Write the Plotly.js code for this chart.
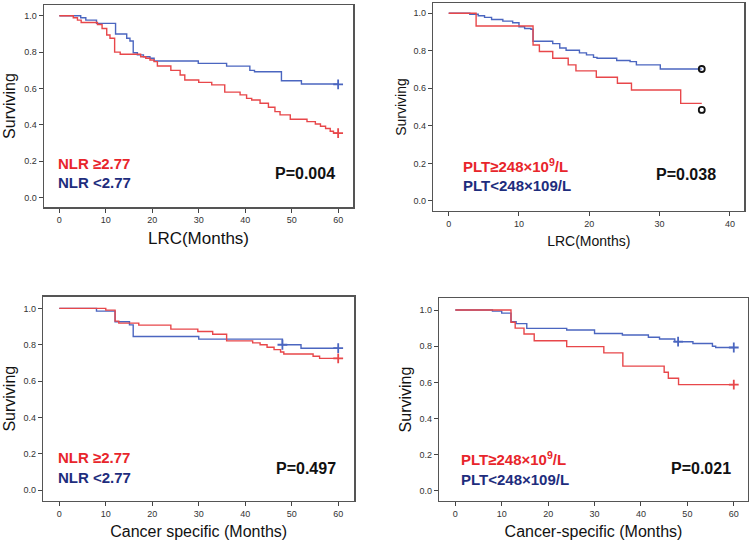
<!DOCTYPE html>
<html><head><meta charset="utf-8">
<script src="https://cdn.plot.ly/plotly-3.0.1.min.js"></script>
<style>html,body{margin:0;padding:0;background:#fff}#chart{width:753px;height:546px}</style>
</head><body><div id="chart"></div>
<script>
// ---- Panel A: LRC by NLR ----
const lrcNlrHighT = [0, 3, 3.9, 4.7, 8.2, 9.2, 10.2, 10.9, 11.9, 13.1, 17.5, 18.6, 19.5, 20.4, 21.1, 24, 26, 27, 30, 32.8, 35.6, 38.9, 40.3, 41.4, 43.2, 45, 46.4, 47.5, 49.7, 53.3, 55.1, 56.2, 57.3, 58.3, 59, 60];
const lrcNlrHighS = [1, .989, .976, .963, .952, .93, .894, .876, .80, .788, .775, .766, .757, .748, .724, .70, .674, .647, .634, .62, .58, .565, .546, .537, .519, .497, .473, .455, .431, .418, .405, .393, .38, .365, .355, .355];
const lrcNlrLowT = [0, 4.6, 5.7, 8.0, 12.1, 14.5, 15.2, 15.9, 16.8, 18.1, 19.5, 20.4, 29.9, 36, 41, 42, 47.8, 52.1, 60];
const lrcNlrLowS = [1, .989, .976, .958, .90, .876, .861, .797, .785, .775, .766, .751, .738, .723, .70, .692, .643, .625, .625];
// ---- Panel B: LRC by PLT ----
const lrcPltHighT = [0, 3.9, 12.0, 12.9, 14.8, 17.0, 18.1, 21, 24, 26, 33, 36];
const lrcPltHighS = [1, .932, .831, .796, .760, .725, .693, .659, .627, .591, .52, .52];
const lrcPltLowT = [0, 3.0, 4.2, 5.1, 6.1, 7.7, 9.1, 10, 10.8, 11.7, 12, 14.8, 15.8, 16.7, 18.6, 19.6, 20.6, 21.1, 23.9, 25.8, 26.7, 30.1, 36];
const lrcPltLowS = [1, .995, .987, .978, .967, .958, .949, .928, .919, .915, .851, .838, .815, .803, .789, .778, .765, .760, .748, .742, .725, .703, .703];
// ---- Panel C: cancer specific by NLR ----
const csNlrHighT = [0, 10, 12, 12.8, 17.1, 24, 29.8, 33, 36, 41.6, 43.2, 44.7, 46.2, 47.6, 48.3, 54.6, 56, 60];
const csNlrHighS = [1, .99, .93, .919, .908, .886, .873, .858, .821, .81, .80, .786, .773, .76, .749, .737, .725, .725];
const csNlrLowT = [0, 8, 12, 15.1, 15.9, 30, 48, 52, 60];
const csNlrLowS = [1, .985, .926, .909, .845, .831, .80, .781, .781];
// ---- Panel D: cancer specific by PLT ----
const csPltHighT = [0, 12, 12.9, 14.8, 17, 24, 32, 36.1, 45, 45.9, 48.1, 60];
const csPltHighS = [1, .933, .90, .868, .83, .798, .763, .69, .656, .623, .588, .588];
const csPltLowT = [0, 8, 10, 12, 13.1, 15.4, 24, 30, 36, 41.6, 44, 47.3, 51.2, 55.4, 56.1, 60];
const csPltLowS = [1, .994, .983, .935, .925, .899, .89, .87, .862, .85, .84, .825, .815, .80, .793, .793];
// ---- censor marks ----
const censA_T = [60, 60], censA_S = [.623, .355];
const censB_T = [36, 36], censB_S = [.703, .485];
const censC_T = [48, 60, 60], censC_S = [.80, .781, .725];
const censD_T = [48, 60, 60], censD_S = [.825, .793, .588];
// ---- text ----
const yTitle = 'Surviving';
const xTitles = ['LRC(Months)', 'LRC(Months)', 'Cancer specific (Months)', 'Cancer-specific (Months)'];
const groupNLR = ['NLR \u22652.77', 'NLR <2.77'];
const groupPLT = ['PLT\u2265248\u00d710<sup>9</sup>/L', 'PLT<248\u00d7109/L'];
const pValues = ['P=0.004', 'P=0.038', 'P=0.497', 'P=0.021'];

const RED = '#e8474a', BLUE = '#4b66c0';
const FONT = 'Liberation Sans, Arial, sans-serif';

function curve(t, s, color, ax) {
  return {x: t, y: s, type: 'scatter', mode: 'lines', line: {shape: 'hv', color: color, width: 1.4},
          xaxis: 'x' + ax, yaxis: 'y' + ax, hoverinfo: 'skip'};
}
function marks(t, s, colors, symbol, size, ax) {
  return {x: t, y: s, type: 'scatter', mode: 'markers',
          marker: {symbol: symbol, size: size, color: colors, line: {color: colors, width: 1.8}},
          xaxis: 'x' + ax, yaxis: 'y' + ax, hoverinfo: 'skip'};
}
const data = [
  curve(lrcNlrLowT, lrcNlrLowS, BLUE, ''), curve(lrcNlrHighT, lrcNlrHighS, RED, ''),
  marks(censA_T, censA_S, [BLUE, RED], 'cross-thin-open', 7, ''),
  curve(lrcPltLowT, lrcPltLowS, BLUE, '2'), curve(lrcPltHighT, lrcPltHighS, RED, '2'),
  marks(censB_T, censB_S, ['#111', '#111'], 'circle-open', 6, '2'),
  curve(csNlrLowT, csNlrLowS, BLUE, '3'), curve(csNlrHighT, csNlrHighS, RED, '3'),
  marks(censC_T, censC_S, [BLUE, BLUE, RED], 'cross-thin-open', 7, '3'),
  curve(csPltLowT, csPltLowS, BLUE, '4'), curve(csPltHighT, csPltHighS, RED, '4'),
  marks(censD_T, censD_S, [BLUE, BLUE, RED], 'cross-thin-open', 7, '4')
];

const W = 753, H = 546;
const px = v => v / W, py = v => 1 - v / H;
function xa(l, r, range, title, tsize, standoff, anchor) {
  return {domain: [px(l), px(r)], range: range, tickmode: 'linear', tick0: 0, dtick: 10,
    ticks: 'outside', ticklen: 4, tickwidth: 1, tickcolor: '#444', showline: true, linecolor: '#555',
    linewidth: 1.5, mirror: true, showgrid: false, zeroline: false, anchor: anchor,
    tickfont: {family: FONT, size: 9, color: '#333'},
    title: {text: title, font: {family: FONT, size: tsize, color: '#111'}, standoff: standoff}};
}
function ya(top, bot, range, tsize, standoff, anchor) {
  return {domain: [py(bot), py(top)], range: range, tickmode: 'linear', tick0: 0, dtick: 0.2, tickformat: '.1f',
    ticks: 'outside', ticklen: 4, tickwidth: 1, tickcolor: '#444', showline: true, linecolor: '#555',
    linewidth: 1.5, mirror: true, showgrid: false, zeroline: false, anchor: anchor,
    tickfont: {family: FONT, size: 9, color: '#333'},
    title: {text: yTitle, font: {family: FONT, size: tsize, color: '#111'}, standoff: standoff}};
}
function txt(x, y, text, color, size, anchor) {
  return {xref: 'paper', yref: 'paper', x: px(x), y: py(y), text: text, showarrow: false,
    xanchor: anchor, yanchor: 'middle', font: {family: FONT, size: size, color: color, weight: 'bold'}};
}
const RTXT = '#e8252b', NAVY = '#1e2d7d';
const layout = {
  width: W, height: H, margin: {l: 0, r: 0, t: 0, b: 0}, showlegend: false,
  paper_bgcolor: '#fff', plot_bgcolor: '#fff',
  xaxis: xa(44, 353, [-3.3, 63.2], xTitles[0], 17, 8, 'y'),
  yaxis: ya(5, 207, [-0.051, 1.059], 16, 4, 'x'),
  xaxis2: xa(433.3, 744.3, [-2.19, 42.05], xTitles[1], 14, 8, 'y2'),
  yaxis2: ya(3.3, 210.7, [-0.052, 1.053], 14, 3, 'x2'),
  xaxis3: xa(43.3, 354, [-3.44, 63.4], xTitles[2], 16, 8, 'y3'),
  yaxis3: ya(296.7, 500.7, [-0.057, 1.064], 16, 4, 'x3'),
  xaxis4: xa(439.3, 747.7, [-3.45, 63.0], xTitles[3], 16, 8, 'y4'),
  yaxis4: ya(298.3, 500.7, [-0.054, 1.065], 16, 4, 'x4'),
  annotations: [
    txt(56, 163, groupNLR[0], RTXT, 15, 'left'), txt(56, 183, groupNLR[1], NAVY, 15, 'left'),
    txt(337, 173, pValues[0], '#111', 16, 'right'),
    txt(461, 165, groupPLT[0], RTXT, 15, 'left'), txt(461, 185, groupPLT[1], NAVY, 15, 'left'),
    txt(718, 174, pValues[1], '#111', 16, 'right'),
    txt(56, 457, groupNLR[0], RTXT, 15, 'left'), txt(56, 477, groupNLR[1], NAVY, 15, 'left'),
    txt(338, 468, pValues[2], '#111', 16, 'right'),
    txt(459, 458, groupPLT[0], RTXT, 15, 'left'), txt(459, 479, groupPLT[1], NAVY, 15, 'left'),
    txt(733, 468, pValues[3], '#111', 16, 'right')
  ]
};
Plotly.newPlot('chart', data, layout, {staticPlot: true, displayModeBar: false});
</script></body></html>
